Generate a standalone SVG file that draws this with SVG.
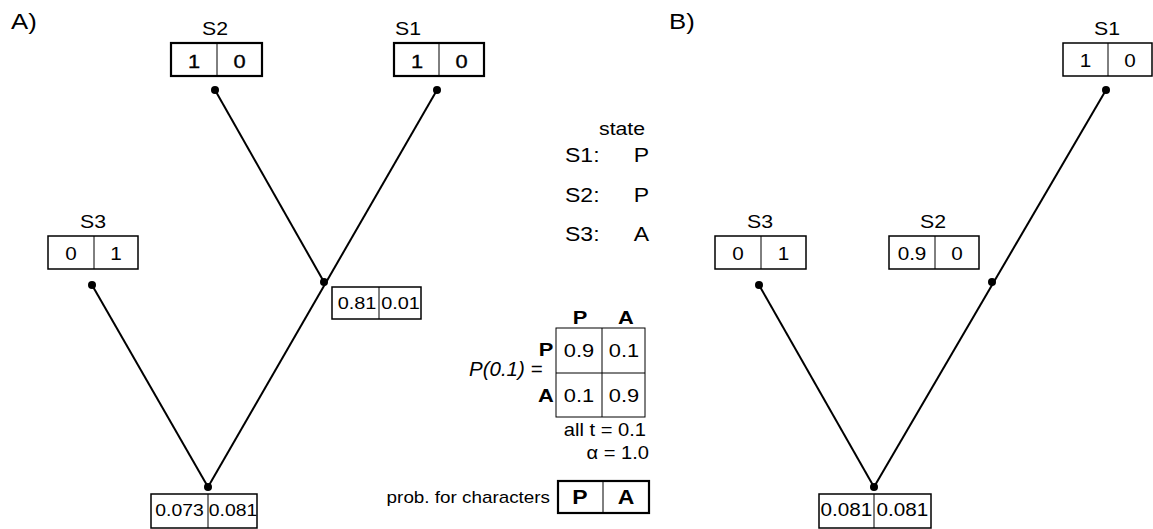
<svg xmlns="http://www.w3.org/2000/svg" width="1153" height="529" viewBox="0 0 1153 529">
  <style>
    text { font-family: "Liberation Sans", Arial, sans-serif; fill: #000; }
    .panel { font-size: 23px; }
    .lbl { font-size: 18.5px; text-anchor: middle; }
    .cell { font-size: 18px; text-anchor: middle; }
    .sm { font-size: 17.3px; }
    .big { font-size: 19px; stroke: #000; stroke-width: 0.35; }
    .mcell { font-size: 19px; text-anchor: middle; }
    .hdr { font-size: 19px; font-weight: bold; text-anchor: middle; }
    .key { font-size: 20px; font-weight: bold; text-anchor: middle; }
    .leg { font-size: 20px; }
    .note { font-size: 17.5px; text-anchor: end; }
    .box { fill: #fff; stroke: #000; stroke-width: 1.5; }
    .box2 { fill: #fff; stroke: #000; stroke-width: 2.2; }
    .div { stroke: #000; stroke-width: 1; }
    .edge { stroke: #000; stroke-width: 2; fill: none; }
    .dot { fill: #000; }
    .grid { fill: none; stroke: #000; stroke-width: 1; }
  </style>

  <!-- panel labels -->
  <text class="panel" transform="matrix(1.12 0 0 1 11 29)">A)</text>
  <text class="panel" transform="matrix(1.12 0 0 1 669 29)">B)</text>

  <!-- connectors -->
  <g id="edges">
    <line class="edge" x1="215" y1="90" x2="324" y2="282"/>
    <line class="edge" x1="437" y1="90" x2="208" y2="487"/>
    <line class="edge" x1="92" y1="285" x2="208" y2="487"/>
    <line class="edge" x1="1106" y1="90" x2="874" y2="487"/>
    <line class="edge" x1="759" y1="285" x2="874" y2="487"/>
    <circle class="dot" cx="215" cy="90" r="4"/>
    <circle class="dot" cx="437" cy="90" r="4"/>
    <circle class="dot" cx="92" cy="285" r="4"/>
    <circle class="dot" cx="324" cy="282" r="4"/>
    <circle class="dot" cx="208" cy="487" r="4"/>
    <circle class="dot" cx="1106" cy="90" r="4"/>
    <circle class="dot" cx="759" cy="285" r="4"/>
    <circle class="dot" cx="992" cy="282" r="4"/>
    <circle class="dot" cx="874" cy="487" r="4"/>
  </g>

  <!-- tree A -->
  <g id="a-s2">
    <text class="lbl" transform="matrix(1.15 0 0 1 215 35)">S2</text>
    <rect class="box2" x="171" y="43" width="91" height="33"/>
    <line class="div" x1="217" y1="43" x2="217" y2="76"/>
    <text class="cell big" transform="matrix(1.15 0 0 1 194 68)">1</text>
    <text class="cell big" transform="matrix(1.15 0 0 1 239.5 68)">0</text>
  </g>
  <g id="a-s1">
    <text class="lbl" transform="matrix(1.15 0 0 1 408 35)">S1</text>
    <rect class="box2" x="394" y="43" width="90" height="33"/>
    <line class="div" x1="439" y1="43" x2="439" y2="76"/>
    <text class="cell big" transform="matrix(1.15 0 0 1 417 68)">1</text>
    <text class="cell big" transform="matrix(1.15 0 0 1 461.5 68)">0</text>
  </g>
  <g id="a-s3">
    <text class="lbl" transform="matrix(1.15 0 0 1 93 228)">S3</text>
    <rect class="box" x="48" y="236" width="90" height="33"/>
    <line class="div" x1="94" y1="236" x2="94" y2="269"/>
    <text class="cell" transform="matrix(1.15 0 0 1 71 260)">0</text>
    <text class="cell" transform="matrix(1.15 0 0 1 116 260)">1</text>
  </g>
  <g id="a-inner">
    <rect class="box" x="332" y="287" width="89" height="32"/>
    <line class="div" x1="379" y1="287" x2="379" y2="319"/>
    <text class="cell sm" transform="matrix(1.15 0 0 1 357 309)">0.81</text>
    <text class="cell sm" transform="matrix(1.15 0 0 1 400.5 309)">0.01</text>
  </g>
  <g id="a-root">
    <rect class="box" x="151" y="494" width="106" height="34"/>
    <line class="div" x1="208" y1="494" x2="208" y2="528"/>
    <text class="cell sm" transform="matrix(1.12 0 0 1 179.5 516)">0.073</text>
    <text class="cell sm" transform="matrix(1.12 0 0 1 233 516)">0.081</text>
  </g>

  <!-- state legend -->
  <g id="states">
    <text class="leg" transform="matrix(1.15 0 0 1 599 135)" style="font-size:18.5px">state</text>
    <text class="leg" transform="matrix(1.15 0 0 1 565 162)">S1:</text>
    <text class="leg" transform="matrix(1.15 0 0 1 649 162)" text-anchor="end">P</text>
    <text class="leg" transform="matrix(1.15 0 0 1 565 202)">S2:</text>
    <text class="leg" transform="matrix(1.15 0 0 1 649 202)" text-anchor="end">P</text>
    <text class="leg" transform="matrix(1.15 0 0 1 565 241)">S3:</text>
    <text class="leg" transform="matrix(1.15 0 0 1 649 241)" text-anchor="end">A</text>
  </g>

  <!-- transition matrix -->
  <g id="matrix">
    <text x="469" y="376" style="font-size:20.5px;font-style:italic">P(0.1) =</text>
    <text class="hdr" transform="matrix(1.15 0 0 1 580 324)">P</text>
    <text class="hdr" transform="matrix(1.15 0 0 1 626 324)">A</text>
    <text class="hdr" transform="matrix(1.15 0 0 1 546 356)">P</text>
    <text class="hdr" transform="matrix(1.15 0 0 1 546 402)">A</text>
    <rect class="grid" x="556" y="328" width="89" height="89"/>
    <line class="grid" x1="602" y1="328" x2="602" y2="417"/>
    <line class="grid" x1="556" y1="373" x2="645" y2="373"/>
    <text class="mcell" transform="matrix(1.15 0 0 1 579 357)">0.9</text>
    <text class="mcell" transform="matrix(1.15 0 0 1 624 357)">0.1</text>
    <text class="mcell" transform="matrix(1.15 0 0 1 579 402)">0.1</text>
    <text class="mcell" transform="matrix(1.15 0 0 1 624 402)">0.9</text>
    <text class="note" transform="matrix(1.15 0 0 1 646 436)">all t = 0.1</text>
    <text class="note" transform="matrix(1.15 0 0 1 649 459)">α = 1.0</text>
  </g>

  <!-- character key -->
  <g id="key">
    <text transform="matrix(1.15 0 0 1 550 503)" style="font-size:16.4px" text-anchor="end">prob. for characters</text>
    <rect class="box2" x="558" y="481" width="91" height="32"/>
    <line class="div" x1="603" y1="481" x2="603" y2="513"/>
    <text class="key" transform="matrix(1.15 0 0 1 580 504)">P</text>
    <text class="key" transform="matrix(1.15 0 0 1 626 504)">A</text>
  </g>

  <!-- tree B -->
  <g id="b-s1">
    <text class="lbl" transform="matrix(1.15 0 0 1 1107 35)">S1</text>
    <rect class="box" x="1063" y="43" width="89" height="33"/>
    <line class="div" x1="1108" y1="43" x2="1108" y2="76"/>
    <text class="cell" transform="matrix(1.15 0 0 1 1085.5 67)">1</text>
    <text class="cell" transform="matrix(1.15 0 0 1 1130 67)">0</text>
  </g>
  <g id="b-s3">
    <text class="lbl" transform="matrix(1.15 0 0 1 760 228)">S3</text>
    <rect class="box" x="715" y="236" width="91" height="33"/>
    <line class="div" x1="761" y1="236" x2="761" y2="269"/>
    <text class="cell" transform="matrix(1.15 0 0 1 738 260)">0</text>
    <text class="cell" transform="matrix(1.15 0 0 1 783.5 260)">1</text>
  </g>
  <g id="b-s2">
    <text class="lbl" transform="matrix(1.15 0 0 1 933 228)">S2</text>
    <rect class="box" x="889" y="236" width="90" height="33"/>
    <line class="div" x1="935" y1="236" x2="935" y2="269"/>
    <text class="cell" transform="matrix(1.15 0 0 1 912 260)">0.9</text>
    <text class="cell" transform="matrix(1.15 0 0 1 957 260)">0</text>
  </g>
  <g id="b-root">
    <rect class="box" x="819" y="494" width="112" height="34"/>
    <line class="div" x1="874" y1="494" x2="874" y2="528"/>
    <text class="cell" transform="matrix(1.15 0 0 1 846.5 516)">0.081</text>
    <text class="cell" transform="matrix(1.15 0 0 1 902.5 516)">0.081</text>
  </g>
</svg>
